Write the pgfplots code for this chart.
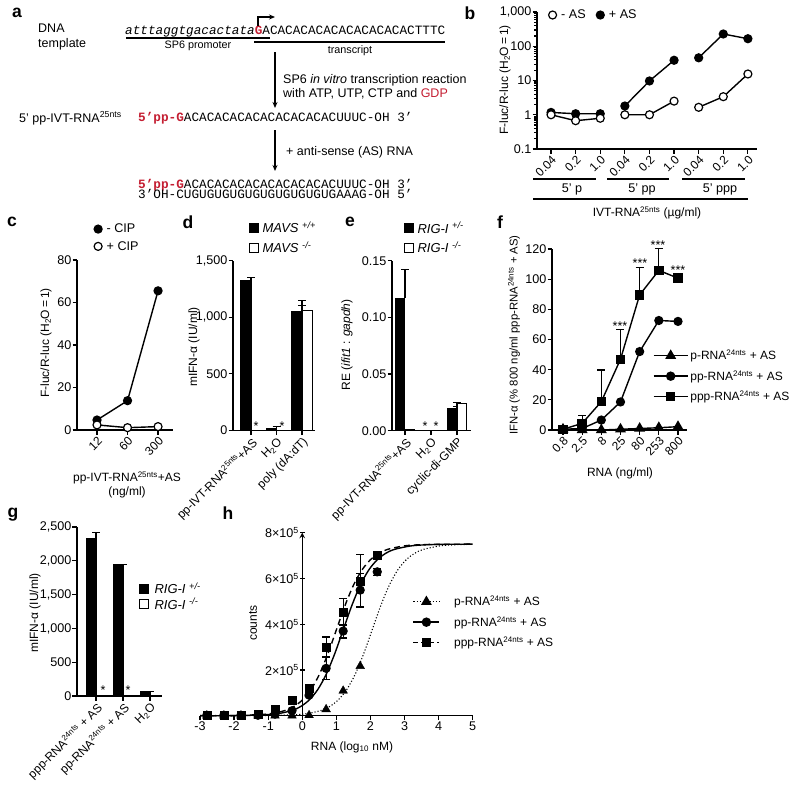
\documentclass[border=0pt]{standalone}
\usepackage{pgfplots}
\pgfplotsset{compat=1.18}
\usepackage{fontspec}
\setmainfont{Liberation Sans}
\setmonofont{Liberation Mono}
\usetikzlibrary{arrows.meta}
\definecolor{dred}{RGB}{196,30,50}
\newcommand\f{\fontsize{12.6}{14}\selectfont}
\newcommand\xf{\fontsize{12}{14}\selectfont}
\newcommand\af{\fontsize{12.5}{14}\selectfont}
\newcommand\tf{\fontsize{12}{13}\selectfont}
\newcommand\lf{\fontsize{17.5}{17}\selectfont\bfseries}
\newcommand\mf{\fontsize{12.7}{14}\selectfont\ttfamily}
\newcommand\sq[1]{\textsuperscript{#1}}
\newcommand\sbs[1]{\textsubscript{#1}}
\pgfplotsset{
  base/.style={scale only axis, axis x line=bottom, axis y line=left,
    axis line style={line width=1.4pt, -},
    tick style={black, line width=1.2pt},
    major tick length=4.5pt, minor tick length=3pt,
    tick align=outside, clip=false, scaled ticks=false,
    ticklabel style={font=\f, inner sep=1pt},
    anchor=south west,
    legend cell align=left,
    legend style={draw=none, fill=none, font=\f, inner sep=0pt, outer sep=0pt},
  },
  catrot/.style={xticklabel style={rotate=45, anchor=north east, inner sep=1pt, font=\tf}},
  ln/.style={black, line width=1.4pt},
  cmark/.style={mark=*, mark size=4pt, mark options={line width=1.2pt, solid}},
  ocmark/.style={mark=*, mark size=4pt, mark options={fill=white, line width=1.2pt, solid}},
  sqmark/.style={mark=square*, mark size=4pt, mark options={solid}},
  trmark/.style={mark=triangle*, mark size=5pt, mark options={solid}},
  ebar/.style={/pgfplots/error bars/y dir=plus, /pgfplots/error bars/y explicit, /pgfplots/error bars/error bar style={line width=1.2pt, black, solid}, /pgfplots/error bars/error mark options={rotate=90, mark size=4pt, line width=1.2pt, black, solid}},
  ebarb/.style={/pgfplots/error bars/y dir=both, /pgfplots/error bars/y explicit, /pgfplots/error bars/error bar style={line width=1.2pt, black, solid}, /pgfplots/error bars/error mark options={rotate=90, mark size=4pt, line width=1.2pt, black, solid}},
}
\begin{document}
\begin{tikzpicture}[font=\f]
\useasboundingbox (0pt,0pt) rectangle (800pt,-787pt);

% ---------------- b ----------------
\begin{axis}[base, at={(537pt,-149pt)}, width=220pt, height=137pt,
  ymode=log, ymin=0.1, ymax=1000, xmin=0.43, xmax=9.37,
  ytick={0.1,1,10,100,1000}, yticklabels={0.1,1,10,100,{1,000}},
  minor ytick={0.2,0.3,0.4,0.5,0.6,0.7,0.8,0.9,2,3,4,5,6,7,8,9,20,30,40,50,60,70,80,90,200,300,400,500,600,700,800,900},
  xtick={1,2,3,4,5,6,7,8,9}, xticklabels={0.04,0.2,1.0,0.04,0.2,1.0,0.04,0.2,1.0}, catrot,
  legend columns=2, legend style={at={(0.05,0.978)}, anchor=west, /tikz/every even column/.append style={column sep=8pt}, /tikz/every odd column/.append style={column sep=2pt}}]
\addlegendimage{legend image code/.code={\draw[black, fill=white, line width=1.2pt] (4.5pt,0pt) circle (4pt);}}
\addlegendentry{- AS}
\addlegendimage{legend image code/.code={\draw[black, fill=black, line width=1.2pt] (4.5pt,0pt) circle (4pt);}}
\addlegendentry{+ AS}
\addplot[ln, cmark, forget plot] coordinates {(1,1.17)(2,1.07)(3,1.07)};
\addplot[ln, cmark, forget plot] coordinates {(4,1.8)(5,9.7)(6,39)};
\addplot[ln, cmark, forget plot] coordinates {(7,46)(8,228)(9,166)};
\addplot[ln, ocmark, forget plot] coordinates {(1,1.0)(2,0.67)(3,0.79)};
\addplot[ln, ocmark, forget plot] coordinates {(4,1.0)(5,1.0)(6,2.5)};
\addplot[ln, ocmark, forget plot] coordinates {(7,1.65)(8,3.37)(9,15.5)};
\end{axis}

% ---------------- c ----------------
\begin{axis}[base, at={(77pt,-430pt)}, width=96pt, height=170pt,
  xmin=0.344, xmax=3.49, ymin=0, ymax=80, ytick={0,20,40,60,80}, yticklabels={0,20,40,60,80},
  xtick={1,2,3}, xticklabels={12,60,300}, catrot,
  legend style={at={(0.172,1.224)}, anchor=north west, row sep=3pt, /tikz/every odd column/.append style={column sep=2pt}}]
\addlegendimage{legend image code/.code={\draw[black, fill=black, line width=1.2pt] (4.5pt,0pt) circle (4pt);}}
\addlegendentry{- CIP}
\addlegendimage{legend image code/.code={\draw[black, fill=white, line width=1.2pt] (4.5pt,0pt) circle (4pt);}}
\addlegendentry{+ CIP}
\addplot[ln, cmark, forget plot] coordinates {(1,4.7)(2,13.8)(3,65.5)};
\addplot[ln, ocmark, forget plot] coordinates {(1,2.4)(2,1.1)(3,1.6)};
\end{axis}

% ---------------- d ----------------
\begin{axis}[base, at={(233pt,-430.5pt)}, width=82pt, height=170pt,
  xmin=0.294, xmax=3.51, ymin=0, ymax=1500, ytick={0,500,1000,1500}, yticklabels={0,500,{1,000},{1,500}},
  xtick={1,2,3}, xticklabels={pp-IVT-RNA\sq{25nts}+AS, H\sbs{2}O, poly (dA:dT)}, catrot,
  legend style={at={(0.189,1.238)}, anchor=north west, row sep=3pt, font=\fontsize{13}{14}\selectfont, /tikz/every odd column/.append style={column sep=2pt}}]
\addlegendimage{legend image code/.code={\draw[black, fill=black, line width=1pt] (0pt,-4.5pt) rectangle (9pt,4.5pt);}}
\addlegendentry{\textit{MAVS} \textsuperscript{\itshape +/+}}
\addlegendimage{legend image code/.code={\draw[black, fill=white, line width=1pt] (0pt,-4.5pt) rectangle (9pt,4.5pt);}}
\addlegendentry{\textit{MAVS} \textsuperscript{\itshape -/-}}
\addplot[ybar, bar width=10.5pt, bar shift=-5.25pt, fill=black, draw=black, line width=1pt, forget plot, ebar] coordinates {(1,1320) +- (0,30) (2,15) +- (0,20) (3,1048) +- (0,97)};
\addplot[ybar, bar width=10.5pt, bar shift=5.25pt, fill=white, draw=black, line width=1.2pt, forget plot, ebar] coordinates {(3,1057) +- (0,43)};
\end{axis}

% ---------------- e ----------------
\begin{axis}[base, at={(392pt,-430.7pt)}, width=79pt, height=170pt,
  xmin=0.5, xmax=3.54, ymin=0, ymax=0.15, ytick={0,0.05,0.1,0.15}, yticklabels={0.00,0.05,0.10,0.15},
  xtick={1,2,3}, xticklabels={pp-IVT-RNA\sq{25nts}+AS, H\sbs{2}O, cyclic-di-GMP}, catrot,
  legend style={at={(0.146,1.239)}, anchor=north west, row sep=3pt, font=\fontsize{13}{14}\selectfont, /tikz/every odd column/.append style={column sep=2pt}}]
\addlegendimage{legend image code/.code={\draw[black, fill=black, line width=1pt] (0pt,-4.5pt) rectangle (9pt,4.5pt);}}
\addlegendentry{\textit{RIG-I} \textsuperscript{\itshape +/-}}
\addlegendimage{legend image code/.code={\draw[black, fill=white, line width=1pt] (0pt,-4.5pt) rectangle (9pt,4.5pt);}}
\addlegendentry{\textit{RIG-I} \textsuperscript{\itshape -/-}}
\addplot[ybar, bar width=9.5pt, bar shift=-4.75pt, fill=black, draw=black, line width=1pt, forget plot, ebar] coordinates {(1,0.117) +- (0,0.025) (3,0.0196) +- (0,0.0015)};
\addplot[ybar, bar width=9.5pt, bar shift=4.75pt, fill=white, draw=black, line width=1.2pt, forget plot, ebar] coordinates {(1,0.0008) (3,0.024) +- (0,0.0008)};
\end{axis}

% ---------------- f ----------------
\begin{axis}[base, at={(552pt,-430pt)}, width=135pt, height=181pt,
  xmin=-0.573, xmax=6.47, ymin=0, ymax=120, ytick={0,20,40,60,80,100,120}, yticklabels={0,20,40,60,80,100,120},
  xtick={0,1,2,3,4,5,6}, xticklabels={0.8,2.5,8,25,80,253,800}, catrot,
  legend style={at={(0.748,0.453)}, anchor=north west, row sep=5pt, font=\xf}]
\addlegendimage{legend image code/.code={\draw[black, line width=1.4pt, mark=triangle*, mark size=5pt, mark indices={2}] plot coordinates {(0pt,0pt) (17pt,0pt) (34pt,0pt)};}}
\addlegendentry{p-RNA\sq{24nts} + AS}
\addlegendimage{legend image code/.code={\draw[black, line width=1.4pt, mark=*, mark size=4pt, mark indices={2}] plot coordinates {(0pt,0pt) (17pt,0pt) (34pt,0pt)};}}
\addlegendentry{pp-RNA\sq{24nts} + AS}
\addlegendimage{legend image code/.code={\draw[black, line width=1.4pt, mark=square*, mark size=4pt, mark indices={2}] plot coordinates {(0pt,0pt) (17pt,0pt) (34pt,0pt)};}}
\addlegendentry{ppp-RNA\sq{24nts} + AS}
\addplot[ln, trmark, forget plot] coordinates {(0,0.5)(1,0)(2,0)(3,0.5)(4,1)(5,1.5)(6,2.2)};
\addplot[ln, cmark, forget plot] coordinates {(0,0.5)(1,1)(2,6.6)(3,18.6)(4,52)(5,72.6)(6,72)};
\addplot[ln, sqmark, forget plot, ebar] coordinates {(0,0.5) (1,4.4) +- (0,5.1) (2,18.8) +- (0,21) (3,46.9) +- (0,19.5) (4,89.6) +- (0,18.1) (5,105.8) +- (0,14.7) (6,100.7)};
\end{axis}

% ---------------- g ----------------
\begin{axis}[base, at={(77pt,-696pt)}, width=85pt, height=169pt,
  xmin=0.296, xmax=3.444, ymin=0, ymax=2500, ytick={0,500,1000,1500,2000,2500}, yticklabels={0,500,{1,000},{1,500},{2,000},{2,500}},
  xtick={1,2,3}, xticklabels={ppp-RNA\sq{24nts} + AS, pp-RNA\sq{24nts} + AS, H\sbs{2}O}, catrot,
  legend style={at={(0.724,0.682)}, anchor=north west, row sep=-1pt, font=\fontsize{13}{14}\selectfont, /tikz/every odd column/.append style={column sep=4pt}}]
\addlegendimage{legend image code/.code={\draw[black, fill=black, line width=1pt] (0pt,-4.5pt) rectangle (9pt,4.5pt);}}
\addlegendentry{\textit{RIG-I} \textsuperscript{\itshape +/-}}
\addlegendimage{legend image code/.code={\draw[black, fill=white, line width=1pt] (0pt,-4.5pt) rectangle (9pt,4.5pt);}}
\addlegendentry{\textit{RIG-I} \textsuperscript{\itshape -/-}}
\addplot[ybar, bar width=9.5pt, bar shift=-4.75pt, fill=black, draw=black, line width=1pt, forget plot, ebar] coordinates {(1,2330) +- (0,90) (2,1940) +- (0,10) (3,60) +- (0,8)};
\end{axis}

% ---------------- h ----------------
\begin{axis}[base, axis y line=middle, at={(200pt,-715.7pt)}, width=272.7pt, height=183pt,
  xmin=-3, xmax=5, ymin=0, ymax=8, xtick={-3,-2,-1,0,1,2,3,4,5}, xticklabels={-3,-2,-1,0,1,2,3,4,5},
  ytick={2,4,6,8}, yticklabels={2×10\sq{5},4×10\sq{5},6×10\sq{5},8×10\sq{5}},
  legend style={at={(0.78,0.665)}, anchor=north west, row sep=5pt, font=\xf, /tikz/every odd column/.append style={column sep=12pt}}]
\addlegendimage{legend image code/.code={\draw[black, line width=1.2pt, dotted, mark=triangle*, mark size=5pt, mark options={solid}, mark indices={2}] plot coordinates {(0pt,0pt) (13pt,0pt) (26pt,0pt)};}}
\addlegendentry{p-RNA\sq{24nts} + AS}
\addlegendimage{legend image code/.code={\draw[black, line width=1.4pt, mark=*, mark size=4pt, mark indices={2}] plot coordinates {(0pt,0pt) (13pt,0pt) (26pt,0pt)};}}
\addlegendentry{pp-RNA\sq{24nts} + AS}
\addlegendimage{legend image code/.code={\draw[black, line width=1.4pt, dash pattern=on 5pt off 3pt, mark=square*, mark size=4pt, mark options={solid}, mark indices={2}] plot coordinates {(0pt,0pt) (13pt,0pt) (26pt,0pt)};}}
\addlegendentry{ppp-RNA\sq{24nts} + AS}
% fitted curves
\addplot[black, line width=1.1pt, dotted, smooth, forget plot] coordinates {(-3,0)(-0.95,0.0075)(0.05,0.0743)(0.55,0.2299)(0.8,0.3994)(1.05,0.6818)(1.3,1.1324)(1.55,1.802)(1.8,2.6998)(2.05,3.75)(2.3,4.8002)(2.55,5.698)(2.8,6.3676)(3.05,6.8182)(3.3,7.1007)(3.55,7.2701)(4.05,7.4257)(4.55,7.4764)(5,7.4904)};
\addplot[black, line width=1.4pt, smooth, forget plot] coordinates {(-3,0.0005)(-1.8,0.0075)(-0.8,0.0743)(-0.3,0.2299)(-0.05,0.3994)(0.2,0.6818)(0.45,1.1324)(0.7,1.802)(0.95,2.6998)(1.2,3.75)(1.45,4.8002)(1.7,5.698)(1.95,6.3676)(2.2,6.8182)(2.45,7.1007)(2.7,7.2701)(3.2,7.4257)(3.7,7.4764)(4.2,7.4925)(5,7.4988)};
\addplot[black, line width=1.4pt, dash pattern=on 6pt off 4pt, smooth, forget plot] coordinates {(-3,0.0007)(-2,0.0075)(-1,0.0743)(-0.5,0.2299)(-0.25,0.3994)(0,0.6818)(0.25,1.1324)(0.5,1.802)(0.75,2.6998)(1,3.75)(1.25,4.8002)(1.5,5.698)(1.75,6.3676)(2,6.8182)(2.25,7.1007)(2.5,7.2701)(3,7.4257)(3.5,7.4764)(4,7.4925)(5,7.4994)};
% data
\addplot[only marks, black, trmark, forget plot] coordinates {(-2.8,0)(-2.3,0)(-1.8,0)(-1.3,0)(-0.8,0)(-0.3,0)(0.2,0.02)(0.7,0.28)(1.2,1.09)(1.7,2.17)};
\addplot[only marks, black, cmark, forget plot, ebarb] coordinates {(-2.8,0.02)(-2.3,0.02)(-1.8,0.02)(-1.3,0.02)(-0.8,0.07)(-0.3,0.22)(0.2,0.9)(0.7,2.07) +- (0,0.5) (1.2,3.7) +- (0,0.3) (1.7,5.49) +- (0,0.73) (2.2,6.29) +- (0,0.15)};
\addplot[only marks, black, sqmark, forget plot, ebarb] coordinates {(-2.8,0.02)(-2.3,0.02)(-1.8,0.02)(-1.3,0.07)(-0.8,0.29)(-0.3,0.66)(0.2,1.2)(0.7,2.99) +- (0,0.45) (1.2,4.54) +- (0,0.6) (1.7,5.9) +- (0,1.15) (2.2,7.0)};
\end{axis}

% ---------------- annotations ----------------
\begin{scope}[x=1pt, y=-1pt]
\tikzset{arr/.style={line width=1.2pt, -{Stealth[length=6pt,width=5pt]}}}
% a
\node[font=\lf] at (17,13) {a};
\node[anchor=base west, inner sep=0pt, font=\af] at (38,32) {DNA};
\node[anchor=base west, inner sep=0pt, font=\af] at (38,47) {template};
\node[anchor=base west, font=\mf, inner sep=0pt] at (125,34.5) {\textit{atttaggtgacactata}\textcolor{dred}{\bfseries G}ACACACACACACACACACACTTTC};
\draw[line width=1.2pt] (126,38)--(270,38);
\draw[line width=1.2pt] (254,42)--(445,42);
\node[font=\fontsize{10.8}{12}\selectfont] at (198,46) {SP6 promoter};
\node[font=\fontsize{10.8}{12}\selectfont] at (350,51) {transcript};
\draw[arr] (258,26)--(258,17)--(275,17);
\draw[arr] (275,52)--(275,108);
\node[anchor=base west, inner sep=0pt, font=\af] at (283,83) {SP6 \textit{in vitro} transcription reaction};
\node[anchor=base west, inner sep=0pt, font=\af] at (283,97) {with ATP, UTP, CTP and \textcolor{dred}{GDP}};
\node[anchor=base west, inner sep=0pt, font=\af] at (19,122) {5’ pp-IVT-RNA\sq{25nts}};
\node[anchor=base west, font=\mf, inner sep=0pt] at (138,121.5) {\textcolor{dred}{\bfseries 5’pp-G}ACACACACACACACACACACUUUC-OH 3’};
\draw[arr] (275,130)--(275,171);
\node[anchor=base west, inner sep=0pt, font=\af] at (286,155) {+ anti-sense (AS) RNA};
\node[anchor=base west, font=\mf, inner sep=0pt] at (138,188) {\textcolor{dred}{\bfseries 5’pp-G}ACACACACACACACACACACUUUC-OH 3’};
\node[anchor=base west, font=\mf, inner sep=0pt] at (138,198.5) {3’OH-CUGUGUGUGUGUGUGUGUGUGAAAG-OH 5’};
% b
\node[font=\lf] at (470,13) {b};
\node[rotate=90, font=\xf] at (505,80) {F-luc/R-luc (H\sbs{2}O\,=\,1)};
\draw[line width=1.2pt] (533,179)--(596,179);
\draw[line width=1.2pt] (607,179)--(669,179);
\draw[line width=1.2pt] (682,179)--(745,179);
\draw[line width=1.2pt] (533,199)--(748,199);
\node[font=\f] at (572,189) {5’ p};
\node[font=\f] at (642,189) {5’ pp};
\node[font=\f] at (720,189) {5’ ppp};
\node[font=\xf] at (647,213) {IVT-RNA\sq{25nts} (µg/ml)};
% c
\node[font=\lf] at (12,222) {c};
\node[rotate=90, font=\xf] at (46,343) {F-luc/R-luc (H\sbs{2}O\,=\,1)};
\node[font=\xf] at (127,478) {pp-IVT-RNA\sq{25nts}+AS};
\node[font=\xf] at (127,492) {(ng/ml)};
% d
\node[font=\lf] at (188,222) {d};
\node[rotate=90, font=\xf] at (194,347) {mIFN-α (IU/ml)};
\node[anchor=base, inner sep=0pt] at (256,430) {*};
\node[anchor=base, inner sep=0pt] at (282,430) {*};
% e
\node[font=\lf] at (350,222) {e};
\node[rotate=90, font=\xf] at (347,345) {RE (\textit{ifit1} : \textit{gapdh})};
\node[anchor=base, inner sep=0pt] at (425,430) {*};
\node[anchor=base, inner sep=0pt] at (436,430) {*};
% f
\node[font=\lf] at (500,222) {f};
\node[rotate=90, font=\fontsize{11.3}{13}\selectfont] at (514,335) {IFN-α (\% 800 ng/ml ppp-RNA\sq{24nts} + AS)};
\node[font=\xf] at (620,473) {RNA (ng/ml)};
\node[anchor=base, inner sep=0pt] at (620,330) {***};
\node[anchor=base, inner sep=0pt] at (640,267) {***};
\node[anchor=base, inner sep=0pt] at (658,249) {***};
\node[anchor=base, inner sep=0pt] at (678,274) {***};
% g
\node[font=\lf] at (13,515) {g};
\node[rotate=90, font=\xf] at (35,613) {mIFN-α (IU/ml)};
\node[anchor=base, inner sep=0pt] at (103,694) {*};
\node[anchor=base, inner sep=0pt] at (128,694) {*};
% h
\node[font=\lf] at (228,513) {h};
\node[rotate=90, font=\xf] at (253,623) {counts};
\node[font=\xf] at (352,747) {RNA (log\sbs{10} nM)};
\end{scope}
\end{tikzpicture}
\end{document}
